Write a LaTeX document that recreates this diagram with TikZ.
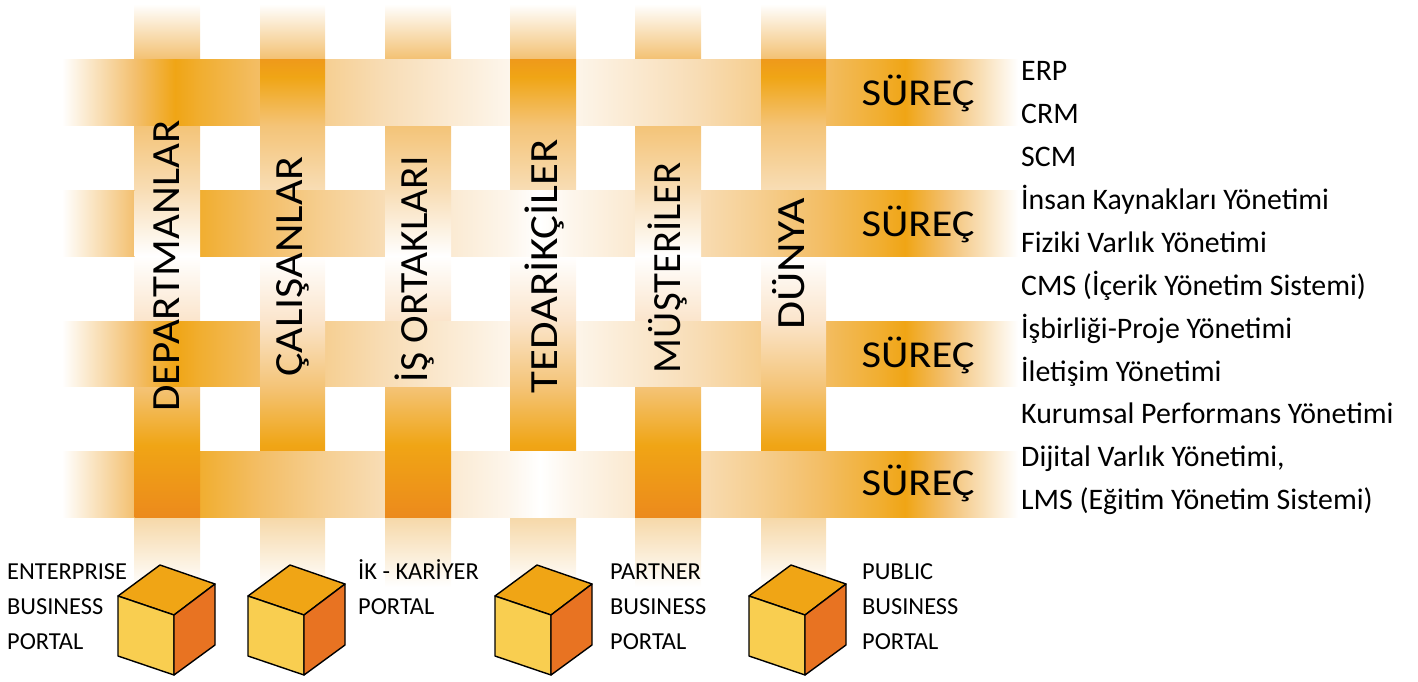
\documentclass[tikz,border=0pt]{standalone}
\usepackage{graphicx}
\usepackage{fontspec}
\setmainfont{Carlito}
\definecolor{hA}{HTML}{F3C070}
\definecolor{hP}{HTML}{F0A515}
\definecolor{hB}{HTML}{F1AE30}
\definecolor{hC}{HTML}{F3BE66}
\definecolor{hD}{HTML}{F6CF92}
\definecolor{hE}{HTML}{F8DDB6}
\definecolor{hF}{HTML}{FDF6EC}
\definecolor{vT}{HTML}{EF9A1A}
\definecolor{vB}{HTML}{EC8A1C}
\definecolor{vD}{HTML}{F8DDB5}
\definecolor{vE}{HTML}{FBE5CC}
\definecolor{vF}{HTML}{F4C478}
\definecolor{stubT}{HTML}{F3C070}
\definecolor{stubB}{HTML}{F6D8A8}
\definecolor{cubeTop}{HTML}{F0A515}
\definecolor{cubeLeft}{HTML}{F9CE50}
\definecolor{cubeRight}{HTML}{E87322}
\pgfdeclarehorizontalshading{hband}{100bp}{%
color(0bp)=(white);color(25bp)=(white);color(28.77bp)=(hA);color(30.91bp)=(hP);
color(32.22bp)=(hB);color(35.36bp)=(hC);color(38.75bp)=(hD);color(41.89bp)=(hE);
color(48.43bp)=(hF);color(50bp)=(white);color(51.57bp)=(hF);color(58.11bp)=(hE);
color(61.25bp)=(hD);color(64.64bp)=(hC);color(67.78bp)=(hB);color(69.09bp)=(hP);
color(71.23bp)=(hA);color(75bp)=(white);color(100bp)=(white)}
\pgfdeclareverticalshading{vband}{100bp}{%
color(0bp)=(vB);color(25bp)=(vB);color(32.88bp)=(hP);color(39.33bp)=(vF);
color(46.55bp)=(vE);color(53.55bp)=(white);color(60.78bp)=(vD);color(67.78bp)=(vF);
color(73.14bp)=(hP);color(75bp)=(vT);color(100bp)=(vT)}
\tikzset{
 hshade/.style={shading=hband},
 vshade/.style={shading=vband},
 stubtop/.style={top color=white,bottom color=stubT},
 stubbot/.style={top color=stubB,bottom color=white},
 sidetext/.style={anchor=base west,inner sep=0pt,font=\fontsize{29.8}{32}\selectfont},
 portaltext/.style={anchor=base west,inner sep=0pt,font=\fontsize{24.4}{28}\selectfont},
 sureclabel/.style={anchor=base,inner sep=0pt,font=\fontsize{38}{40}\selectfont},
 collabel/.style={rotate=90,anchor=base,inner sep=0pt,font=\fontsize{40}{42}\selectfont},
 cubeface/.style={draw=black,line width=1.4pt,line join=round},
}
\newcommand{\widen}[2]{\scalebox{#1}[1]{#2}}
\newcommand{\cube}[1]{%
 \begin{scope}[shift={(#1,0)}]
  \filldraw[cubeface,fill=cubeTop] (118,596)--(160,565)--(215,584)--(174,615)--cycle;
  \filldraw[cubeface,fill=cubeLeft] (118,596)--(174,615)--(174,675)--(118,656)--cycle;
  \filldraw[cubeface,fill=cubeRight] (174,615)--(215,584)--(215,645)--(174,675)--cycle;
 \end{scope}}
\begin{document}
\begin{tikzpicture}[x=1pt,y=-1pt]
\useasboundingbox (0,0) rectangle (1418,682);
% vertical strips, full length
\foreach \a/\b in {134.5/200,260/325,385/451,510/576,635/701,761/826}{
  \shade[stubtop] (\a,4) rectangle (\b,60);
  \shade[vshade] (\a,60) rectangle (\b,517);
  \shade[stubbot] (\a,517) rectangle (\b,587);
}
% horizontal strips
\foreach \t/\u in {60/126,190/256,321/386,451/517}{
  \shade[hshade] (62,\t) rectangle (1018,\u);
}
% verticals passing over
\foreach \a/\b/\t/\u in {
 260/325/60/126,510/576/60/126,761/826/60/126,
 134.5/200/190/256,385/451/190/256,635/701/190/256,
 260/325/321/386,510/576/321/386,761/826/321/386,
 134.5/200/451/517,385/451/451/517,635/701/451/517}{
  \begin{scope}
   \clip (\a,\t) rectangle (\b,\u);
   \shade[vshade] (\a,60) rectangle (\b,517);
  \end{scope}
}
% column labels
\node[collabel] (c1) at (179,266) {\widen{1.075}{DEPARTMANLAR}};
\node[collabel] (c2) at (302,266.5) {\widen{1.10}{ÇALIŞANLAR}};
\node[collabel] (c3) at (427,269) {\widen{1.04}{İŞ ORTAKLARI}};
\node[collabel] (c4) at (557,266.5) {\widen{1.12}{TEDARİKÇİLER}};
\node[collabel] (c5) at (680,267.5) {\widen{1.02}{MÜŞTERİLER}};
\node[collabel] (c6) at (804,264) {\widen{1.14}{DÜNYA}};
% process labels
\node[sureclabel] (s1) at (918,106) {\widen{1.12}{SÜREÇ}};
\node[sureclabel] (s2) at (918,236.5) {\widen{1.12}{SÜREÇ}};
\node[sureclabel] (s3) at (918,367) {\widen{1.12}{SÜREÇ}};
\node[sureclabel] (s4) at (918,495) {\widen{1.12}{SÜREÇ}};
% right list
\node[sidetext] (r1) at (1021,81) {ERP};
\node[sidetext] (r2) at (1021,124) {CRM};
\node[sidetext] (r3) at (1021,166.5) {SCM};
\node[sidetext] (r4) at (1021,209) {İnsan Kaynakları Yönetimi};
\node[sidetext] (r5) at (1021,252) {Fiziki Varlık Yönetimi};
\node[sidetext] (r6) at (1021,295) {CMS (İçerik Yönetim Sistemi)};
\node[sidetext] (r7) at (1021,338) {İşbirliği-Proje Yönetimi};
\node[sidetext] (r8) at (1021,381) {İletişim Yönetimi};
\node[sidetext] (r9) at (1021,423.5) {Kurumsal Performans Yönetimi};
\node[sidetext] (r10) at (1021,466.5) {Dijital Varlık Yönetimi,};
\node[sidetext] (r11) at (1021,509.5) {LMS (Eğitim Yönetim Sistemi)};
% cubes
\cube{0}\cube{130}\cube{377}\cube{631}
% portal labels
\node[portaltext] (p1a) at (7,579) {ENTERPRISE};
\node[portaltext] (p1b) at (7,614) {BUSINESS};
\node[portaltext] (p1c) at (7,649) {PORTAL};
\node[portaltext] (p2a) at (358,579) {İK - KARİYER};
\node[portaltext] (p2b) at (358,614) {PORTAL};
\node[portaltext] (p3a) at (610,579) {PARTNER};
\node[portaltext] (p3b) at (610,614) {BUSINESS};
\node[portaltext] (p3c) at (610,649) {PORTAL};
\node[portaltext] (p4a) at (862,579) {PUBLIC};
\node[portaltext] (p4b) at (862,614) {BUSINESS};
\node[portaltext] (p4c) at (862,649) {PORTAL};
\end{tikzpicture}
\end{document}
